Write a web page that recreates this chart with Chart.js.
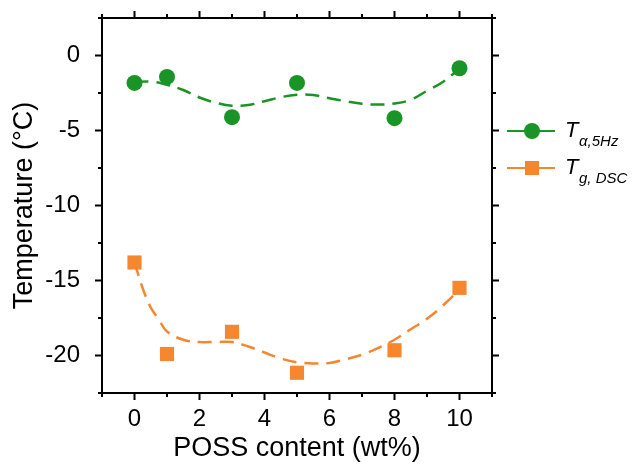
<!DOCTYPE html>
<html>
<head>
<meta charset="utf-8">
<script src="https://cdn.jsdelivr.net/npm/chart.js@4"></script>
<style>
  body { margin: 0; background: #fff; }
  #wrap { width: 638px; height: 468px; }
</style>
</head>
<body>
<div id="wrap"><canvas id="grafico" width="638" height="468"></canvas></div>
<script>
// datos
const contenidoPOSS = [0, 1, 3, 5, 8, 10];
const tAlpha5Hz = [-1.83, -1.43, -4.11, -1.83, -4.18, -0.85];
const tgDSC = [-13.8, -19.9, -18.42, -21.15, -19.65, -15.49];

// curvas de ajuste (discontinuas)
const ajusteAlphaX = [0, 0.5, 1, 1.5, 2, 2.5, 3, 3.5, 4, 4.5, 5, 5.5, 6, 6.5, 7, 7.5, 8, 8.5, 9, 9.5, 10];
const ajusteAlphaY = [-1.76, -1.74, -1.95, -2.3, -2.8, -3.15, -3.35, -3.3, -3.05, -2.78, -2.62, -2.63, -2.85, -3.05, -3.22, -3.27, -3.2, -2.95, -2.35, -1.75, -0.87];
const ajusteTgX = [0, 0.25, 0.5, 0.75, 1, 1.5, 2, 2.5, 3, 3.5, 4, 4.5, 5, 5.5, 6, 6.5, 7, 7.5, 8, 8.5, 9, 9.5, 10];
const ajusteTgY = [-13.8, -15.5, -16.8, -17.6, -18.4, -18.95, -19.1, -19.1, -19.1, -19.4, -19.8, -20.2, -20.45, -20.53, -20.5, -20.25, -19.95, -19.5, -18.95, -18.25, -17.55, -16.65, -15.6];

const ticksX = [0, 2, 4, 6, 8, 10];
const ticksY = [-20, -15, -10, -5, 0];
const ticksMenoresX = [-1, 1, 3, 5, 7, 9, 11];
const ticksMenoresY = [-22.5, -17.5, -12.5, -7.5, -2.5, 2.5];

const leyendaPrincipal = ['T', 'T'];
const leyendaSub = ['\u03b1,5Hz', 'g, DSC'];

const verde = '#1a9427', naranja = '#f7872e';
const fuente = '"Liberation Sans", Arial, sans-serif';

function puntos(xs, ys){ return xs.map((x, i) => ({x: x, y: ys[i]})); }
function sinRelleno(s){ s.paddingTop = 0; s.paddingBottom = 0; s.paddingLeft = 0; s.paddingRight = 0; }

// marco + ticks hacia afuera en los cuatro lados
const marcoPlugin = {
    id: 'marco',
    afterDraw(chart){
        const ctx = chart.ctx, a = chart.chartArea;
        const sx = chart.scales.x, sy = chart.scales.y;
        ctx.save();
        ctx.strokeStyle = '#000'; ctx.lineWidth = 2;
        ctx.strokeRect(a.left, a.top, a.right - a.left, a.bottom - a.top);
        ctx.beginPath();
        const tickX = (v, len) => {
            const px = sx.getPixelForValue(v);
            ctx.moveTo(px, a.bottom); ctx.lineTo(px, a.bottom + len);
            ctx.moveTo(px, a.top); ctx.lineTo(px, a.top - len);
        };
        const tickY = (v, len) => {
            const py = sy.getPixelForValue(v);
            ctx.moveTo(a.left, py); ctx.lineTo(a.left - len, py);
            ctx.moveTo(a.right, py); ctx.lineTo(a.right + len, py);
        };
        ticksX.forEach(v => tickX(v, 7)); ticksMenoresX.forEach(v => tickX(v, 4));
        ticksY.forEach(v => tickY(v, 7)); ticksMenoresY.forEach(v => tickY(v, 4));
        ctx.stroke();

        // leyenda a la derecha
        const filas = [{color: verde, forma: 'circulo', y: 131}, {color: naranja, forma: 'cuadro', y: 168}];
        filas.forEach((f, i) => {
            ctx.strokeStyle = f.color; ctx.fillStyle = f.color; ctx.lineWidth = 2;
            ctx.beginPath(); ctx.moveTo(507, f.y); ctx.lineTo(555, f.y); ctx.stroke();
            if (f.forma === 'circulo') {
                ctx.beginPath(); ctx.arc(532, f.y, 8, 0, Math.PI * 2); ctx.fill();
            } else {
                ctx.fillRect(525, f.y - 7, 14, 14);
            }
            ctx.fillStyle = '#000';
            ctx.textBaseline = 'alphabetic'; ctx.textAlign = 'left';
            ctx.font = 'italic 22px ' + fuente;
            ctx.fillText(leyendaPrincipal[i], 565, f.y + 6);
            ctx.font = 'italic 15px ' + fuente;
            ctx.fillText(leyendaSub[i], 579, f.y + 15);
        });
        ctx.restore();
    }
};

const ctx = document.getElementById('grafico').getContext('2d');
new Chart(ctx, {
    type: 'scatter',
    data: {
        datasets: [
            {
                label: 'T\u03b1,5Hz',
                data: puntos(contenidoPOSS, tAlpha5Hz),
                backgroundColor: verde, borderColor: verde,
                pointStyle: 'circle', pointRadius: 8, pointBorderWidth: 0,
                showLine: false, order: 0
            },
            {
                label: 'Tg, DSC',
                data: puntos(contenidoPOSS, tgDSC),
                backgroundColor: naranja, borderColor: naranja,
                pointStyle: 'rect', pointRadius: 10, pointBorderWidth: 0,
                showLine: false, order: 0
            },
            {
                label: 'ajuste alpha',
                data: puntos(ajusteAlphaX, ajusteAlphaY),
                borderColor: verde, borderWidth: 2.5, borderDash: [14, 8],
                pointRadius: 0, showLine: true, tension: 0.4, order: 1
            },
            {
                label: 'ajuste tg',
                data: puntos(ajusteTgX, ajusteTgY),
                borderColor: naranja, borderWidth: 2.5, borderDash: [14, 8],
                pointRadius: 0, showLine: true, tension: 0.4, order: 1
            }
        ]
    },
    options: {
        responsive: false,
        animation: false,
        layout: { padding: { left: 0, right: 146, top: 18, bottom: 0 } },
        plugins: { legend: { display: false }, tooltip: { enabled: false } },
        scales: {
            x: {
                type: 'linear', min: -1, max: 11,
                afterFit: s => { s.height = 75; sinRelleno(s); },
                afterBuildTicks: s => { s.ticks = ticksX.map(v => ({value: v})); },
                grid: { display: false }, border: { display: false },
                ticks: { color: '#000', font: { family: fuente, size: 24 }, padding: 4, maxRotation: 0 },
                title: { display: true, text: 'POSS content (wt%)', color: '#000',
                         font: { family: fuente, size: 27 }, padding: { top: 0, bottom: 3 } }
            },
            y: {
                type: 'linear', min: -22.5, max: 2.5,
                afterFit: s => { s.width = 102; sinRelleno(s); },
                afterBuildTicks: s => { s.ticks = ticksY.map(v => ({value: v})); },
                grid: { display: false }, border: { display: false },
                ticks: { color: '#000', font: { family: fuente, size: 24 }, padding: 14 },
                title: { display: true, text: 'Temperature (\u00b0C)', color: '#000',
                         font: { family: fuente, size: 27 }, padding: { top: 8, bottom: 0 } }
            }
        }
    },
    plugins: [marcoPlugin]
});
</script>
</body>
</html>
